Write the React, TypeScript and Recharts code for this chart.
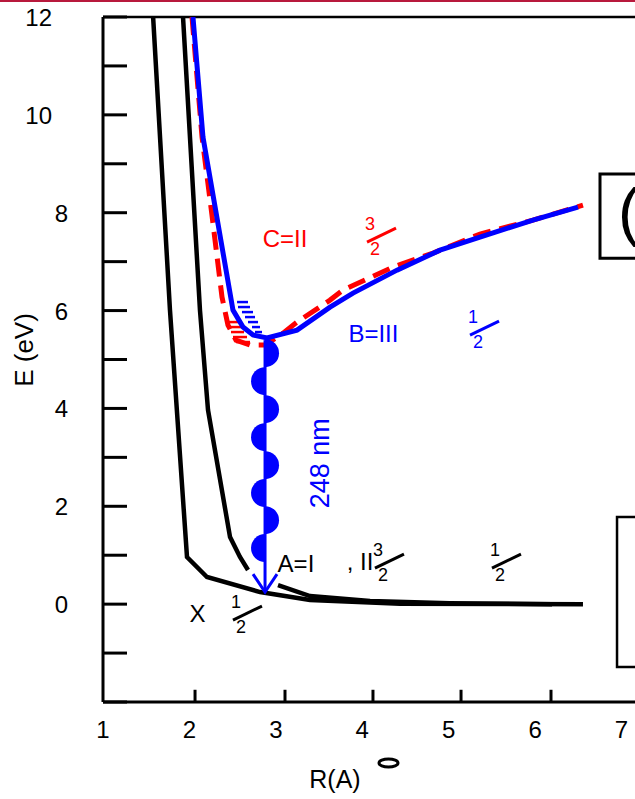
import {
  ComposedChart,
  Line,
  Scatter,
  XAxis,
  YAxis,
  ReferenceLine,
  ReferenceArea,
} from 'recharts'

const FONT = '"Liberation Sans", Arial, Helvetica, sans-serif'
const BLUE = '#0000ff'
const RED = '#ff0000'

// potential curves: R (Angstrom) vs E (eV)
const stateX = [
  { x: 1.58, y: 12 }, { x: 1.775, y: 6.01 }, { x: 1.972, y: 0.963 }, { x: 2.203, y: 0.554 },
  { x: 2.817, y: 0.247 }, { x: 3.395, y: 0.084 }, { x: 4.437, y: 0.01 }, { x: 6.554, y: 0 },
]
const stateA = [
  { x: 1.926, y: 12 }, { x: 2.122, y: 6.01 }, { x: 2.215, y: 3.97 }, { x: 2.47, y: 1.37 },
  { x: 2.585, y: 0.963 }, { x: 2.678, y: 0.697 }, { x: 2.85, y: null },
  { x: 3.025, y: 0.39 }, { x: 3.395, y: 0.166 }, { x: 4.09, y: 0.063 }, { x: 5.015, y: 0.02 },
  { x: 6.196, y: 0 },
]
const stateC = [
  { x: 2.03, y: 12 }, { x: 2.146, y: 9.545 }, { x: 2.261, y: 7.951 }, { x: 2.377, y: 6.275 },
  { x: 2.446, y: 5.703 }, { x: 2.539, y: 5.396 }, { x: 2.701, y: 5.294 }, { x: 2.875, y: 5.294 },
  { x: 3.083, y: 5.539 }, { x: 3.245, y: 5.764 }, { x: 3.627, y: 6.214 }, { x: 3.777, y: 6.419 },
  { x: 4.356, y: 6.889 }, { x: 4.819, y: 7.175 }, { x: 5.362, y: 7.563 }, { x: 5.975, y: 7.849 },
  { x: 6.554, y: 8.156 },
]
const stateB = [
  { x: 2.041, y: 12 }, { x: 2.157, y: 9.545 }, { x: 2.504, y: 6.01 }, { x: 2.62, y: 5.663 },
  { x: 2.736, y: 5.5 }, { x: 2.898, y: 5.439 }, { x: 3.245, y: 5.6 }, { x: 3.627, y: 6.07 },
  { x: 3.893, y: 6.356 }, { x: 4.402, y: 6.826 }, { x: 4.9, y: 7.235 }, { x: 5.362, y: 7.5 },
  { x: 5.975, y: 7.849 }, { x: 6.496, y: 8.115 },
]

// predissociation hatching [y, x from, x to]
const hatchB = [
  [6.174, 2.551, 2.678], [6.072, 2.562, 2.701], [5.969, 2.608, 2.736], [5.867, 2.643, 2.759],
  [5.765, 2.678, 2.794], [5.663, 2.724, 2.817], [5.561, 2.759, 2.84],
]
const hatchC = [
  [5.765, 2.446, 2.562], [5.663, 2.458, 2.597], [5.561, 2.481, 2.632], [5.459, 2.504, 2.666],
  [5.357, 2.539, 2.701],
]

// 248 nm emission, B -> X
const photonR = 2.875
const photonShaft = [{ x: photonR, y: 5.396 }, { x: photonR, y: 0.26 }]
const photonTip = [{ x: photonR, y: 0.247 }]
const bumpsRight = [5.13, 3.985, 2.841, 1.717].map((y) => ({ x: photonR, y }))
const bumpsLeft = [4.558, 3.413, 2.269, 1.145].map((y) => ({ x: photonR, y }))

const xTicks = [1, 2, 3, 4, 5, 6, 7]
const xTickMarks = [2.065, 3.106, 4.124, 5.143, 6.184]
const yTicks = [-2, -1, 0, 1, 2, 3, 4, 5, 6, 7, 8, 9, 10, 11, 12]

const redLabels = [{ x: 3.106, y: 7.472, t: 'C=II' }]
const blueLabels = [{ x: 4.129, y: 5.53, t: 'B=III' }]
const blackLabels = [
  { x: 3.233, y: 0.82, t: 'A=I' },
  { x: 3.974, y: 0.86, t: ', II' },
  { x: 2.093, y: -0.2, t: 'X' },
]
const wavelength = [{ x: 3.511, y: 2.88, t: '248 nm' }]
const redFractions = [{ x: 4.055, y: 7.4, n: '3', d: '2' }]
const blueFractions = [{ x: 5.247, y: 5.5, n: '1', d: '2' }]
const blackFractions = [
  { x: 4.147, y: 0.738, n: '3', d: '2' },
  { x: 5.501, y: 0.738, n: '1', d: '2' },
  { x: 2.504, y: -0.325, n: '1', d: '2' },
]
const panelGlyph = [{ x: 6.959, y: 7.564, t: '(' }]

const textShape =
  (fill: string, size: number, rotate = false) =>
  (p: any) => (
    <text
      x={p.cx}
      y={p.cy}
      dy="0.35em"
      textAnchor="middle"
      fontSize={size}
      fontFamily={FONT}
      fill={fill}
      transform={rotate ? `rotate(-90 ${p.cx} ${p.cy})` : undefined}
    >
      {p.payload.t}
    </text>
  )

const fractionShape = (fill: string) => (p: any) => (
  <g>
    <text x={p.cx + 3} y={p.cy - 18} dy="0.35em" textAnchor="middle" fontSize={18} fontFamily={FONT} fill={fill}>
      {p.payload.n}
    </text>
    <line x1={p.cx} y1={p.cy} x2={p.cx + 29} y2={p.cy - 14} stroke={fill} strokeWidth={3} />
    <text x={p.cx + 8} y={p.cy + 7} dy="0.35em" textAnchor="middle" fontSize={18} fontFamily={FONT} fill={fill}>
      {p.payload.d}
    </text>
  </g>
)

const bumpShape = (right: boolean) => (p: any) => (
  <path
    d={`M ${p.cx} ${p.cy - 14} A 14 14 0 0 ${right ? 1 : 0} ${p.cx} ${p.cy + 14} Z`}
    fill={BLUE}
  />
)

const arrowShape = (p: any) => (
  <path
    d={`M ${p.cx - 12} ${p.cy - 18} L ${p.cx} ${p.cy} L ${p.cx + 12} ${p.cy - 18}`}
    fill="none"
    stroke={BLUE}
    strokeWidth={3}
  />
)

const glyphShape = (p: any) => (
  <text x={p.cx} y={p.cy} fontSize={64} fontFamily={FONT} fill="#000">
    {p.payload.t}
  </text>
)

function YTick(props: any) {
  const { x, y, payload } = props
  const v = payload.value
  if (v < 0 || v % 2 !== 0) return <g />
  const shift = String(v).length > 1 ? -16 : 0
  return (
    <text x={x + shift} y={y} dy={9} textAnchor="end" fontSize={24} fontFamily={FONT} fill="#000">
      {v}
    </text>
  )
}

function XTick(props: any) {
  const { x, y, payload } = props
  return (
    <text x={x} y={y + 36} textAnchor="middle" fontSize={24} fontFamily={FONT} fill="#000">
      {payload.value}
    </text>
  )
}

function XTitle() {
  return (
    <g>
      <text x={335} y={788} textAnchor="middle" fontSize={25} fontFamily={FONT} fill="#000">
        R(A)
      </text>
      <ellipse cx={388.5} cy={763} rx={9.5} ry={4} fill="none" stroke="#000" strokeWidth={3} />
    </g>
  )
}

function YTitle() {
  return (
    <text
      x={24}
      y={350}
      dy="0.35em"
      textAnchor="middle"
      transform="rotate(-90 24 350)"
      fontSize={26}
      fontFamily={FONT}
      fill="#000"
    >
      E (eV)
    </text>
  )
}

export default function App() {
  return (
    <div style={{ position: 'absolute', left: 0, top: 0, width: 635, height: 799, background: '#fff' }}>
      <div style={{ position: 'absolute', left: 0, top: 0, width: 635, height: 2, background: '#b8193c' }} />
      <ComposedChart width={635} height={799} margin={{ top: 17, right: 0, bottom: 0, left: 0 }}>
        <XAxis
          dataKey="x"
          type="number"
          domain={[1, 7.156]}
          allowDataOverflow
          ticks={xTicks}
          interval={0}
          tickLine={false}
          tickSize={0}
          tickMargin={0}
          tick={<XTick />}
          axisLine={{ stroke: '#000', strokeWidth: 3 }}
          height={97}
          label={<XTitle />}
        />
        <YAxis
          type="number"
          domain={[-2, 12]}
          allowDataOverflow
          ticks={yTicks}
          interval={0}
          width={103}
          tickSize={-24}
          tickMargin={59}
          tickLine={{ stroke: '#000', strokeWidth: 3 }}
          axisLine={{ stroke: '#000', strokeWidth: 3 }}
          tick={<YTick />}
          label={<YTitle />}
        />
        <ReferenceLine y={12} stroke="#000" strokeWidth={2.5} />
        {xTickMarks.map((t) => (
          <ReferenceLine key={t} segment={[{ x: t, y: -2 }, { x: t, y: -1.75 }]} stroke="#000" strokeWidth={3} />
        ))}
        <ReferenceArea x1={6.751} x2={7.5} y1={7.07} y2={8.79} fill="none" stroke="#000" strokeWidth={3} ifOverflow="visible" />
        <ReferenceArea x1={6.948} x2={7.5} y1={-1.285} y2={1.78} fill="none" stroke="#000" strokeWidth={2.5} ifOverflow="visible" />

        <Line data={stateX} dataKey="y" stroke="#000" strokeWidth={4.5} dot={false} isAnimationActive={false} />
        <Line data={stateA} dataKey="y" stroke="#000" strokeWidth={4.5} dot={false} isAnimationActive={false} />
        <Line data={stateC} dataKey="y" stroke={RED} strokeWidth={5} strokeDasharray="18 9" dot={false} isAnimationActive={false} />
        {hatchC.map(([y, a, b]) => (
          <ReferenceLine key={'c' + y} segment={[{ x: a, y }, { x: b, y }]} stroke={RED} strokeWidth={2.5} />
        ))}
        <Line data={stateB} dataKey="y" stroke={BLUE} strokeWidth={5} dot={false} isAnimationActive={false} />
        {hatchB.map(([y, a, b]) => (
          <ReferenceLine key={'b' + y} segment={[{ x: a, y }, { x: b, y }]} stroke={BLUE} strokeWidth={2.5} />
        ))}

        <Line data={photonShaft} dataKey="y" stroke={BLUE} strokeWidth={3} dot={false} isAnimationActive={false} />
        <Scatter data={bumpsRight} dataKey="y" shape={bumpShape(true)} isAnimationActive={false} />
        <Scatter data={bumpsLeft} dataKey="y" shape={bumpShape(false)} isAnimationActive={false} />
        <Scatter data={photonTip} dataKey="y" shape={arrowShape} isAnimationActive={false} />

        <Scatter data={redLabels} dataKey="y" shape={textShape(RED, 24)} isAnimationActive={false} />
        <Scatter data={blueLabels} dataKey="y" shape={textShape(BLUE, 24)} isAnimationActive={false} />
        <Scatter data={blackLabels} dataKey="y" shape={textShape('#000', 24)} isAnimationActive={false} />
        <Scatter data={wavelength} dataKey="y" shape={textShape(BLUE, 27, true)} isAnimationActive={false} />
        <Scatter data={redFractions} dataKey="y" shape={fractionShape(RED)} isAnimationActive={false} />
        <Scatter data={blueFractions} dataKey="y" shape={fractionShape(BLUE)} isAnimationActive={false} />
        <Scatter data={blackFractions} dataKey="y" shape={fractionShape('#000')} isAnimationActive={false} />
        <Scatter data={panelGlyph} dataKey="y" shape={glyphShape} isAnimationActive={false} />
      </ComposedChart>
    </div>
  )
}
